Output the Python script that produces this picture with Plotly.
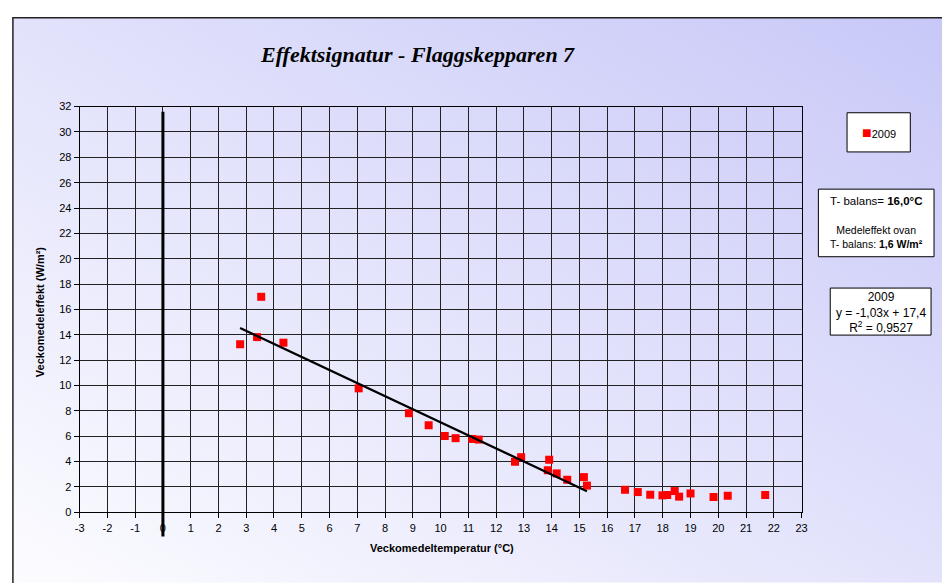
import base64
import plotly.graph_objects as go

# ---- data ----
temps = [2.78, 3.54, 3.39, 4.34, 7.05, 8.86, 9.57, 10.15, 10.54, 11.14, 11.37,
         12.68, 12.90, 13.91, 13.86, 14.18, 14.56, 15.16, 15.27,
         16.64, 17.10, 17.55, 17.99, 18.16, 18.43, 18.59, 19.00, 19.83, 20.34, 21.69]
effects = [13.26, 17.0, 13.82, 13.38, 9.78, 7.82, 6.87, 6.02, 5.85, 5.79, 5.74,
           3.99, 4.35, 4.15, 3.32, 3.07, 2.57, 2.78, 2.11,
           1.78, 1.60, 1.39, 1.34, 1.37, 1.68, 1.24, 1.49, 1.21, 1.31, 1.37]
series_name = "2009"
slope = -1.03
intercept = 17.4
r2 = "0,9527"
t_balans = 16.0
x_ticks = list(range(-3, 24))
x_ticktext = [str(v) for v in x_ticks]
y_ticks = list(range(0, 33, 2))

W, H = 942, 583
fig = go.Figure()

fig.add_trace(go.Scatter(
    x=temps, y=effects, mode="markers", name=series_name,
    marker=dict(symbol="square", size=8, color="#FF0000", line=dict(width=0)),
    showlegend=False))

below = [t for t in temps if t < t_balans]
fx = [min(below), max(below)]
fy = [slope * v + intercept for v in fx]
fig.add_trace(go.Scatter(x=fx, y=fy, mode="lines",
                         line=dict(color="black", width=2.2), showlegend=False))

# gradient background
svg = ('<svg xmlns="http://www.w3.org/2000/svg" width="100" height="100" preserveAspectRatio="none">'
       '<defs><linearGradient id="g" x1="0" y1="1" x2="1" y2="0">'
       '<stop offset="0" stop-color="#FCFCFF"/><stop offset="1" stop-color="#C8C8F8"/>'
       '</linearGradient></defs><rect width="100" height="100" fill="url(#g)"/></svg>')
uri = "data:image/svg+xml;base64," + base64.b64encode(svg.encode()).decode()

bx0, by0 = 8, 12
fig.add_layout_image(dict(source=uri, xref="paper", yref="paper",
                          x=bx0 / W, y=1 - by0 / H, sizex=1 - bx0 / W + 0.01, sizey=1 - by0 / H + 0.01,
                          sizing="stretch", xanchor="left", yanchor="top", layer="below"))

xmin, xmax = x_ticks[0], x_ticks[-1]
ymin, ymax = y_ticks[0], y_ticks[-1]

def px_box(x0, y0, x1, y1):
    return dict(type="rect", xref="paper", yref="paper", x0=x0 / W, x1=x1 / W,
                y0=1 - y1 / H, y1=1 - y0 / H, line=dict(color="black", width=1),
                fillcolor="white", layer="above")

shapes = [
    dict(type="rect", xref="paper", yref="paper", x0=bx0 / W, x1=1.02, y0=-0.02, y1=1 - by0 / H,
         line=dict(color="#222", width=1.5), fillcolor="rgba(0,0,0,0)", layer="below"),
    # thick vertical line at x = 0
    dict(type="line", xref="x domain", yref="y domain",
         x0=(0 - xmin) / (xmax - xmin), x1=(0 - xmin) / (xmax - xmin),
         y0=(-1.9 - ymin) / (ymax - ymin), y1=(31.6 - ymin) / (ymax - ymin),
         line=dict(color="black", width=3)),
    px_box(852, 109, 916, 149),
    px_box(823, 187, 940, 256),
    px_box(835, 288, 937, 336),
]

font = "Liberation Sans, Arial, sans-serif"

def txt(text, x, y, size, family=font, angle=0):
    return dict(text=text, xref="paper", yref="paper", x=x / W, y=1 - y / H,
                showarrow=False, xanchor="center", yanchor="middle", align="center",
                textangle=angle, borderpad=0,
                font=dict(family=family, size=size, color="black"))

annotations = [
    txt("<b><i>Effektsignatur - Flaggskepparen 7</i></b>", 417, 50, 22, "Liberation Serif, serif"),
    txt("<b>Veckomedeltemperatur (°C)</b>", 442, 553, 11),
    txt("<b>Veckomedeleffekt (W/m²)</b>", 35, 312, 11, angle=-90),
    txt("<span style='color:#FF0000;font-size:16px'>■</span>" + series_name, 884, 129, 11),
    txt("T- balans= <b>16,0°C</b>", 881.5, 199, 11.5),
    txt("Medeleffekt ovan<br>T- balans: <b>1,6 W/m²</b>", 881.5, 236, 10.5),
    txt(series_name + "<br>y = -1,03x + 17,4<br>R<sup>2</sup> = " + r2, 886, 312.5, 12),
]

axis_common = dict(showgrid=True, gridcolor="#222", gridwidth=1, zeroline=False,
                   showline=True, linecolor="black", linewidth=1, mirror=True,
                   ticks="outside", ticklen=5, tickcolor="black",
                   tickfont=dict(family=font, size=11, color="black"))

fig.update_layout(
    width=W, height=H, margin=dict(l=0, r=0, t=0, b=0),
    paper_bgcolor="white", plot_bgcolor="white",
    xaxis=dict(range=[xmin, xmax], tickvals=x_ticks, ticktext=x_ticktext,
               domain=[75.5 / W, 806 / W], **axis_common),
    yaxis=dict(range=[ymin, ymax], tickvals=y_ticks, domain=[1 - 517 / H, 1 - 102.7 / H], **axis_common),
    shapes=shapes, annotations=annotations,
)

fig.write_html("out.html", config={"displayModeBar": False},
               post_script="document.body.style.margin='0';document.body.style.overflow='hidden';")
